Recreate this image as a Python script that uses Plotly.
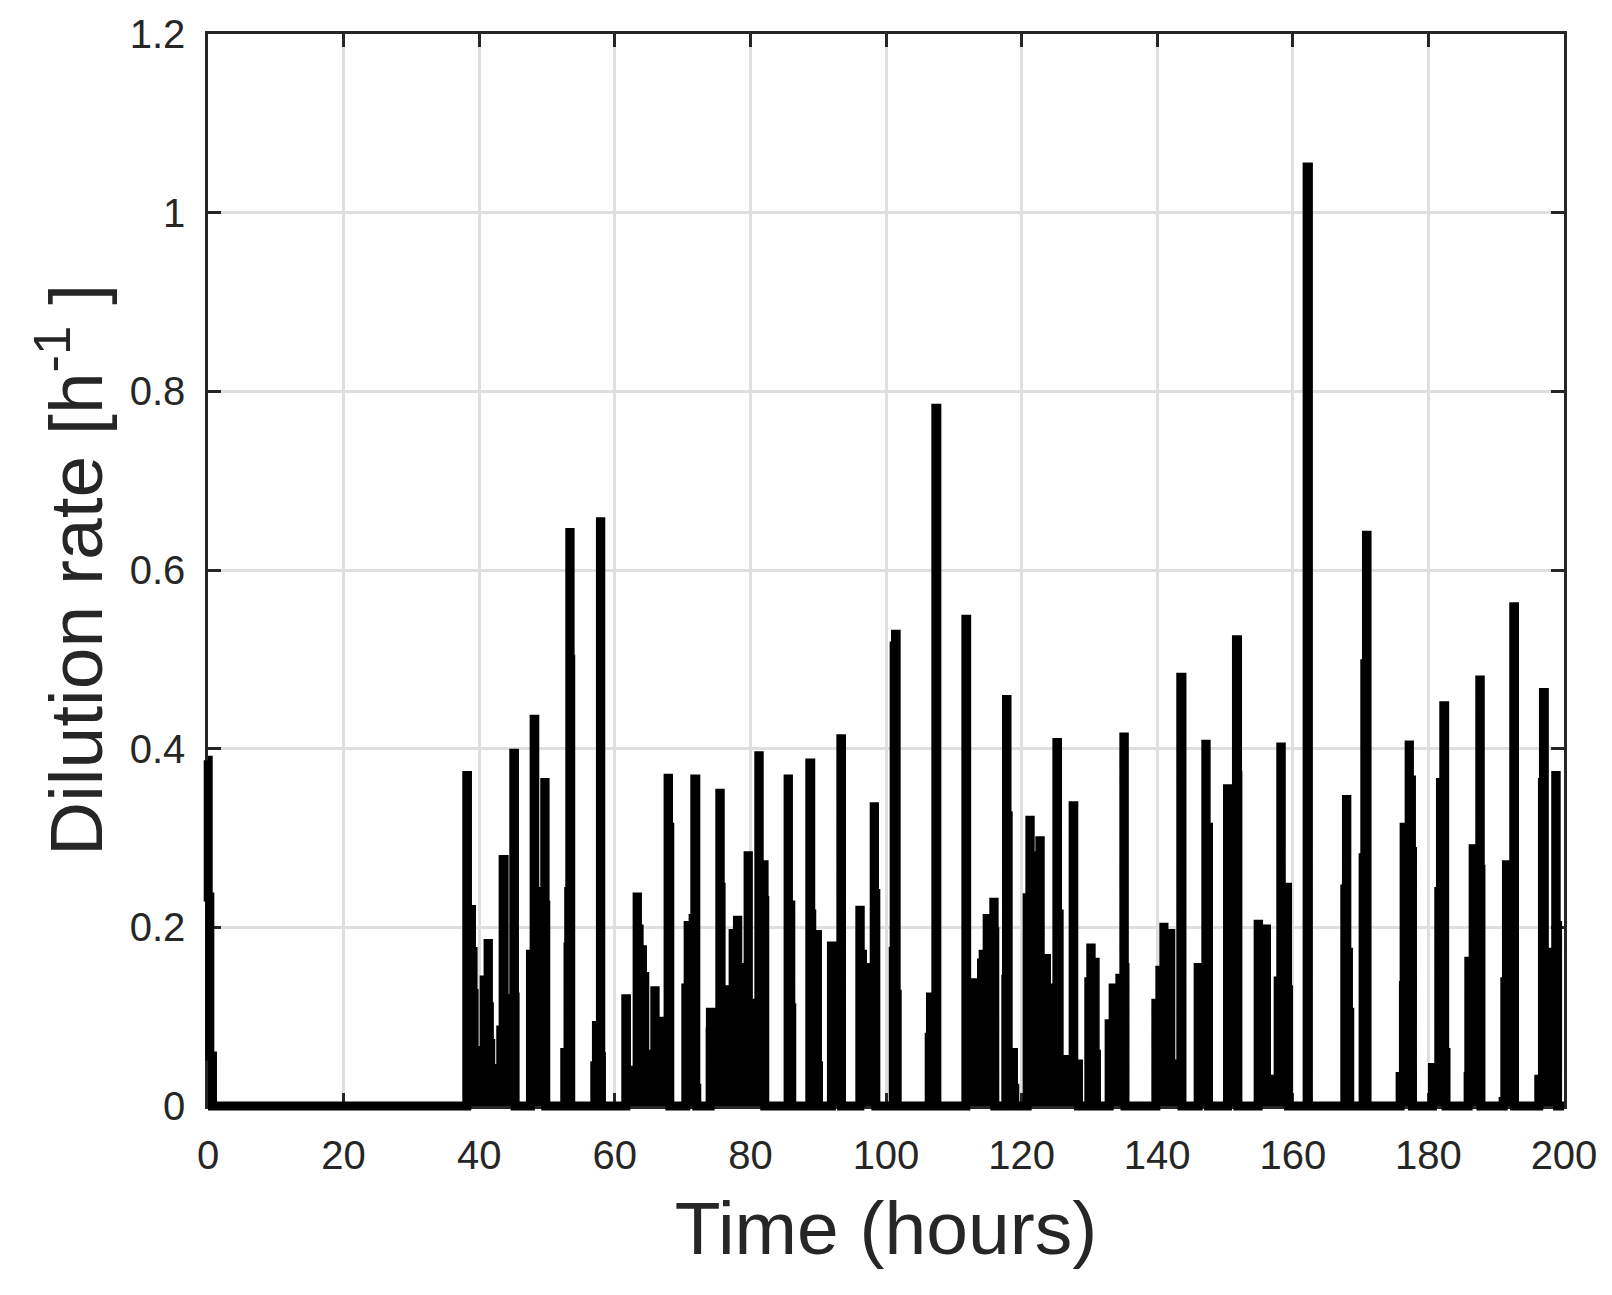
import plotly.graph_objects as go

# Dilution rate input (step signal)
t_hours = [
    0, 0.03, 0.27, 0.66,
    38.17, 38.27, 38.86, 39.10, 39.25, 40.73, 41.31, 41.36, 41.5, 41.7, 43.18, 43.53, 43.68, 45.1, 45.2, 45.3,
    47.56, 48.1, 48.2, 49.67, 49.72, 49.82,
    52.62, 53.1, 53.2, 53.36, 53.41, 53.5,
    57.05, 57.29, 57.88, 57.93, 58.03,
    61.62, 61.72, 63.29, 63.34, 63.59, 64.08, 64.42, 65.9, 65.95, 67.86, 67.92, 68.11,
    70.47, 70.82, 71.55, 71.8, 71.95, 72.09,
    74.06, 74.1, 75.49, 75.55, 75.68, 77.45, 78.09, 78.14, 78.6, 79.66, 79.7, 81.24, 81.3, 82.02, 82.12,
    85.56, 85.61, 85.96, 86.1,
    88.76, 88.9, 89.05, 89.89, 90.04,
    91.95, 93.34, 93.44,
    96.14, 96.2, 96.53, 98.26, 98.3, 98.5,
    101.06, 101.2, 101.4, 101.5, 101.65,
    106.37, 106.56, 107.35, 107.5,
    111.78, 111.9, 114.09, 114.33, 114.92, 115.9, 115.95, 116.05,
    117.67, 117.77, 117.85, 118.02, 118.8, 119.0,
    120.82, 121.22, 121.27, 122.69, 122.75, 123.67, 125.2, 125.3, 125.54, 127.6, 127.7, 128.39,
    129.91, 130.21, 130.26, 130.85, 131.04,
    132.91, 133.5, 134.49, 135.08, 135.15, 135.25,
    139.8, 140.39, 140.98, 141.0, 142.01, 143.48, 143.65,
    146.04, 147.17, 147.22, 147.56,
    150.37, 151.69, 151.85, 151.9,
    154.89, 154.95, 156.12, 157.84, 158.23, 158.3, 159.22, 159.36,
    162.11, 162.3,
    167.67, 167.91, 167.97, 168.21, 168.4,
    170.37, 170.62, 170.86, 170.95,
    175.83, 176.32, 176.42, 177.16, 177.2, 177.5, 177.65,
    180.6, 181.53, 181.78, 182.27, 182.4, 182.6,
    185.86, 185.96, 186.6, 187.58, 187.65, 187.75,
    191.02, 191.27, 191.51, 192.59, 192.7,
    196.28, 196.82, 196.97, 197.1, 198.78, 198.85, 199.05, 200,
]
dilution_rate = [
    0.387, 0.234, 0.056, 0,
    0.37, 0.22, 0.173, 0.126, 0.062, 0.141, 0.182, 0.111, 0.07, 0.042, 0.085, 0.276, 0.12, 0.395, 0.122, 0,
    0.17, 0.433, 0.24, 0.362, 0.225, 0,
    0.06, 0.178, 0.24, 0.642, 0.5, 0,
    0.045, 0.09, 0.654, 0.055, 0,
    0.12, 0.04, 0.234, 0.198, 0.175, 0.145, 0.058, 0.129, 0.095, 0.367, 0.312, 0,
    0.132, 0.202, 0.21, 0.366, 0.02, 0,
    0.083, 0.105, 0.35, 0.245, 0.13, 0.193, 0.208, 0.155, 0.12, 0.28, 0.115, 0.392, 0.27, 0.23, 0,
    0.366, 0.225, 0.11, 0,
    0.384, 0.215, 0.192, 0.045, 0,
    0.179, 0.411, 0,
    0.219, 0.17, 0.155, 0.335, 0.238, 0,
    0.173, 0.515, 0.528, 0.125, 0,
    0.077, 0.122, 0.781, 0,
    0.545, 0.138, 0.16, 0.17, 0.21, 0.228, 0.195, 0,
    0.142, 0.455, 0.325, 0.06, 0.02, 0,
    0.233, 0.32, 0.28, 0.297, 0.165, 0.132, 0.407, 0.215, 0.052, 0.336, 0.047, 0,
    0.139, 0.177, 0.161, 0.058, 0,
    0.092, 0.132, 0.143, 0.413, 0.155, 0,
    0.115, 0.152, 0.2, 0.193, 0.047, 0.48, 0,
    0.155, 0.405, 0.312, 0,
    0.355, 0.522, 0.37, 0,
    0.2035, 0.198, 0.03, 0.14, 0.402, 0.245, 0.13, 0,
    1.051, 0,
    0.243, 0.343, 0.172, 0.105, 0,
    0.278, 0.495, 0.639, 0,
    0.033, 0.135, 0.312, 0.404, 0.365, 0.285, 0,
    0.043, 0.24, 0.362, 0.448, 0.06, 0,
    0.033, 0.162, 0.288, 0.477, 0.265, 0,
    0.005, 0.139, 0.27, 0.559, 0,
    0.03, 0.362, 0.463, 0.172, 0.37, 0.202, 0, 0,
]

x_ticks = [0, 20, 40, 60, 80, 100, 120, 140, 160, 180, 200]
y_ticks = [0, 0.2, 0.4, 0.6, 0.8, 1.0, 1.2]
y_ticktext = ['0', '0.2', '0.4', '0.6', '0.8', '1', '1.2']
x_range = [0, 200]
y_range = [0, 1.2]

TEXT = '#262626'
GRID = '#dfdfdf'
FONT = 'Liberation Sans, Arial, Helvetica, sans-serif'

W, H = 1612, 1295
# axes box in pixels (left, right, top, bottom)
BOX_L, BOX_R, BOX_T, BOX_B = 208, 1564, 34, 1106
PAD = 12  # room so the thick line is not cut at the frame (MATLAB doesn't clip it)

ml, mr, mt, mb = BOX_L - PAD, W - BOX_R - PAD, BOX_T - PAD, H - BOX_B - PAD
pw, ph = W - ml - mr, H - mt - mb
box_w, box_h = BOX_R - BOX_L, BOX_B - BOX_T
dx = (x_range[1] - x_range[0]) * PAD / box_w
dy = (y_range[1] - y_range[0]) * PAD / box_h

fig = go.Figure()

# empty trace so the framed subplot (grid, ticks, labels) gets drawn
fig.add_trace(go.Scatter(x=[], y=[], xaxis='x', yaxis='y', showlegend=False, hoverinfo='skip'))

# the data, on a slightly larger overlay subplot mapped to the same pixels.
# the pulses are so dense in the original that the area under them reads as solid black
fig.add_trace(go.Scatter(
    x=t_hours,
    y=dilution_rate,
    mode='lines',
    line=dict(color='black', width=9, shape='hv'),
    fill='tozeroy',
    fillcolor='black',
    xaxis='x2',
    yaxis='y2',
    showlegend=False,
    hoverinfo='skip'
))

axis_common = dict(
    ticks='inside',
    ticklen=13,
    tickwidth=2.5,
    tickcolor=TEXT,
    showline=True,
    linecolor=TEXT,
    linewidth=2.5,
    mirror='ticks',
    showgrid=True,
    gridcolor=GRID,
    gridwidth=2.5,
    zeroline=False,
    automargin=False,
    tickfont=dict(size=40, color=TEXT, family=FONT),
    fixedrange=True,
)

fig.update_layout(
    width=W,
    height=H,
    paper_bgcolor='white',
    plot_bgcolor='rgba(0,0,0,0)',
    margin=dict(l=ml, r=mr, t=mt, b=mb, pad=0, autoexpand=False),
    font=dict(family=FONT, color=TEXT),
    showlegend=False,
    xaxis=dict(
        axis_common,
        domain=[PAD / pw, 1 - PAD / pw],
        range=x_range,
        tickvals=x_ticks,
        ticklabelstandoff=12,
        title=dict(text='Time (hours)', font=dict(size=75, color=TEXT, family=FONT), standoff=26),
        anchor='y',
    ),
    yaxis=dict(
        axis_common,
        domain=[PAD / ph, 1 - PAD / ph],
        range=y_range,
        tickvals=y_ticks,
        ticktext=y_ticktext,
        ticklabelstandoff=12,
        title=dict(text='Dilution rate [h<sup>-1</sup> ]', font=dict(size=75, color=TEXT, family=FONT), standoff=3),
        anchor='x',
    ),
    xaxis2=dict(
        domain=[0, 1],
        range=[x_range[0] - dx, x_range[1] + dx],
        visible=False,
        fixedrange=True,
        anchor='y2',
    ),
    yaxis2=dict(
        domain=[0, 1],
        range=[y_range[0] - dy, y_range[1] + dy],
        visible=False,
        fixedrange=True,
        anchor='x2',
    ),
)

fig.write_html("out.html", config={'displayModeBar': False},
               post_script="document.body.style.margin='0';")
